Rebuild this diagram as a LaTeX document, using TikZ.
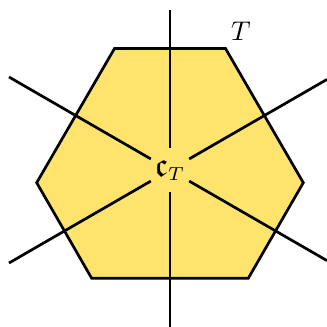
\documentclass[tikz,border=0pt]{standalone}
\usepackage{amssymb}
\usepackage{graphicx}
\definecolor{hexfill}{RGB}{254,228,108}
\begin{document}
\begin{tikzpicture}[x=0.37pt,y=-0.37pt,
  edge/.style={draw=black,line width=1pt},
  center/.style={circle,minimum size=16pt,inner sep=0pt}]
\useasboundingbox (0,0) rectangle (327,327);
\filldraw[fill=hexfill,draw=black,line width=1pt,line join=miter]
  (114.5,48.5) -- (225.5,48.5) -- (303.3,182.7) -- (248.3,278.3) -- (91.7,278.3) -- (36.7,182.7) -- cycle;
\node[center] (c) at (170,170) {\scalebox{1.25}{$\mathfrak{c}$}$_T$};
\coordinate (top) at (170,10);
\coordinate (bot) at (170,327);
\coordinate (ul) at (9,77);
\coordinate (lr) at (327,260.6);
\coordinate (ur) at (327,79.4);
\coordinate (ll) at (9,263);
\foreach \p in {top,bot,ul,lr,ur,ll} \draw[edge] (c) -- (\p);
\node (T) at (241,31) {$T$};
\end{tikzpicture}
\end{document}
